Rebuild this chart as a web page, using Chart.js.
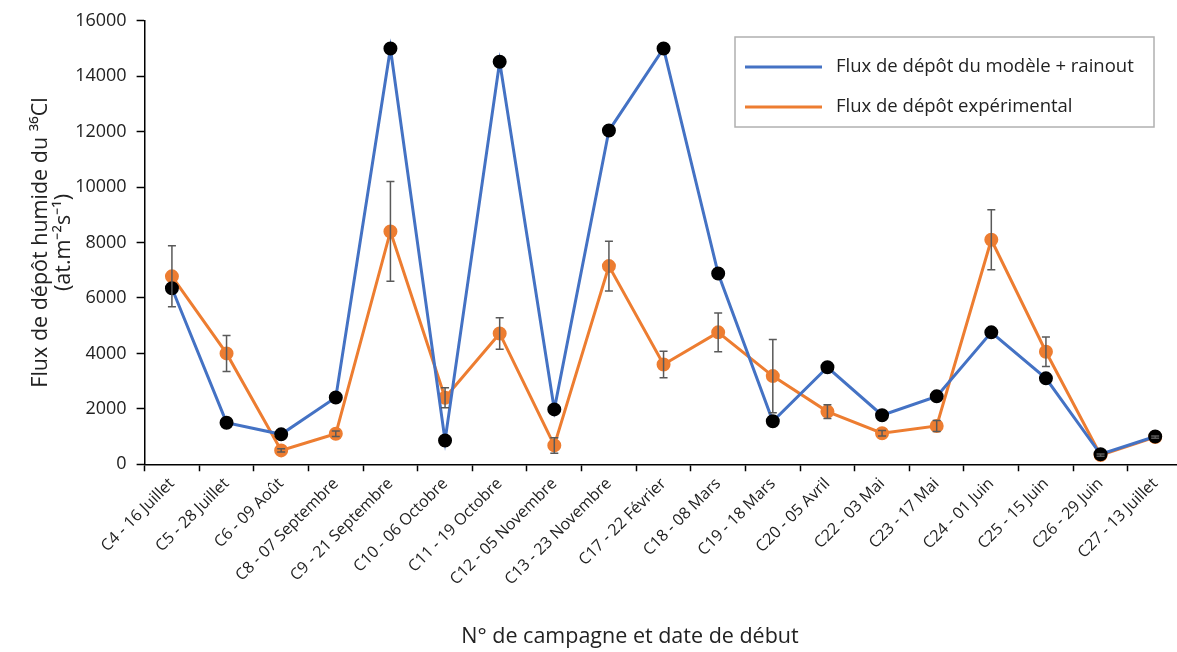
<!doctype html>
<html>
<head>
	<title>Flux de dépôt humide du 36Cl</title>
	<script src="https://cdn.jsdelivr.net/npm/chart.js@4"></script>
	<style>
		body { margin: 0; background: #fff; overflow: hidden; }
		#holder { width: 1191px; height: 652px; }
	</style>
</head>
<body>
	<div id="holder">
		<canvas id="chart-area"></canvas>
	</div>
	<script>
		var campagnes = [
			'C4 - 16 Juillet', 'C5 - 28 Juillet', 'C6 - 09 Août', 'C8 - 07 Septembre',
			'C9 - 21 Septembre', 'C10 - 06 Octobre', 'C11 - 19 Octobre', 'C12 - 05 Novembre',
			'C13 - 23 Novembre', 'C17 - 22 Février', 'C18 - 08 Mars', 'C19 - 18 Mars',
			'C20 - 05 Avril', 'C22 - 03 Mai', 'C23 - 17 Mai', 'C24 - 01 Juin',
			'C25 - 15 Juin', 'C26 - 29 Juin', 'C27 - 13 Juillet'
		];
		var fluxModele = [6350, 1500, 1080, 2410, 15000, 860, 14520, 1980, 12040, 15000,
			6880, 1550, 3500, 1770, 2450, 4760, 3100, 360, 1000];
		var fluxExperimental = [6780, 4000, 500, 1100, 8400, 2400, 4720, 680, 7150, 3600,
			4760, 3180, 1900, 1120, 1380, 8100, 4060, 330, 980];
		var erreurExperimental = [1100, 650, 60, 100, 1800, 360, 570, 280, 900, 480,
			700, 1320, 250, 100, 200, 1080, 530, 40, 40];
		var yTicks = [0, 2000, 4000, 6000, 8000, 10000, 12000, 14000, 16000];

		var police = "'Open Sans', sans-serif";

		// barres d'erreur, légende et titre de l'axe x
		var errorBars = {
			id: 'errorBars',
			afterDatasetsDraw: function(chart) {
				var ctx = chart.ctx;
				var xs = chart.scales.x, ys = chart.scales.y;
				ctx.save();
				ctx.strokeStyle = '#595959';
				ctx.lineWidth = 1.5;
				for (var i = 0; i < fluxExperimental.length; i++) {
					var x = xs.getPixelForValue(i);
					var yHaut = ys.getPixelForValue(fluxExperimental[i] + erreurExperimental[i]);
					var yBas = ys.getPixelForValue(fluxExperimental[i] - erreurExperimental[i]);
					ctx.beginPath();
					ctx.moveTo(x, yHaut); ctx.lineTo(x, yBas);
					ctx.moveTo(x - 4, yHaut); ctx.lineTo(x + 4, yHaut);
					ctx.moveTo(x - 4, yBas); ctx.lineTo(x + 4, yBas);
					ctx.stroke();
				}
				ctx.restore();
			},
			afterDraw: function(chart) {
				var ctx = chart.ctx;
				ctx.save();
				ctx.fillStyle = '#fff';
				ctx.fillRect(735, 37, 419, 90);
				ctx.strokeStyle = '#b0b0b0';
				ctx.lineWidth = 1.5;
				ctx.strokeRect(735, 37, 419, 90);
				var items = [
					['Flux de dépôt du modèle + rainout', '#4472C4', 67],
					['Flux de dépôt expérimental', '#ED7D31', 107]
				];
				ctx.font = '18.5px ' + police;
				ctx.textBaseline = 'middle';
				items.forEach(function(it) {
					ctx.strokeStyle = it[1];
					ctx.lineWidth = 3;
					ctx.beginPath();
					ctx.moveTo(745, it[2]); ctx.lineTo(822, it[2]);
					ctx.stroke();
					ctx.fillStyle = '#222';
					ctx.fillText(it[0], 836, it[2]);
				});
				ctx.font = '21.5px ' + police;
				ctx.textAlign = 'center';
				ctx.fillText('N° de campagne et date de début', 630, 637);
				ctx.restore();
			}
		};

		var config = {
			type: 'line',
			data: {
				labels: campagnes,
				datasets: [{
					label: 'Flux de dépôt du modèle + rainout',
					data: fluxModele,
					borderColor: '#4472C4',
					backgroundColor: '#000',
					pointBackgroundColor: '#000',
					pointBorderColor: '#000',
					pointRadius: 5.5,
					borderWidth: 3,
					tension: 0
				}, {
					label: 'Flux de dépôt expérimental',
					data: fluxExperimental,
					borderColor: '#ED7D31',
					backgroundColor: '#ED7D31',
					pointBackgroundColor: '#ED7D31',
					pointBorderColor: '#ED7D31',
					pointRadius: 5.5,
					borderWidth: 3,
					tension: 0
				}]
			},
			options: {
				responsive: true,
				maintainAspectRatio: false,
				animation: false,
				layout: { padding: { left: 30, right: 0, top: 7, bottom: 60 } },
				plugins: {
					legend: { display: false },
					tooltip: { enabled: false }
				},
				scales: {
					x: {
						offset: true,
						grid: { drawOnChartArea: false, offset: true, tickLength: 7, color: '#000', tickWidth: 1.5 },
						border: { color: '#000', width: 1.5 },
						ticks: {
							font: { family: police, size: 16 },
							color: '#222',
							minRotation: 45,
							maxRotation: 45,
							autoSkip: false
						}
					},
					y: {
						min: 0,
						max: 16000,
						afterBuildTicks: function(axis) {
							axis.ticks = yTicks.map(function(v) { return { value: v }; });
						},
						grid: { drawOnChartArea: false, tickLength: 8, color: '#000', tickWidth: 1.5 },
						border: { color: '#000', width: 1.5 },
						ticks: {
							font: { family: police, size: 18 },
							color: '#222',
							padding: 10,
							callback: function(v) { return String(v); }
						},
						title: {
							display: true,
							text: ['Flux de dépôt humide du ³⁶Cl', '(at.m⁻²s⁻¹)'],
							font: { family: police, size: 21.5, lineHeight: 1.05 },
							color: '#222',
							padding: { top: 0, bottom: -10 }
						}
					}
				}
			},
			plugins: [errorBars]
		};

		window.onload = function() {
			var ctx = document.getElementById('chart-area').getContext('2d');
			window.myLine = new Chart(ctx, config);
		};
	</script>
</body>
</html>
